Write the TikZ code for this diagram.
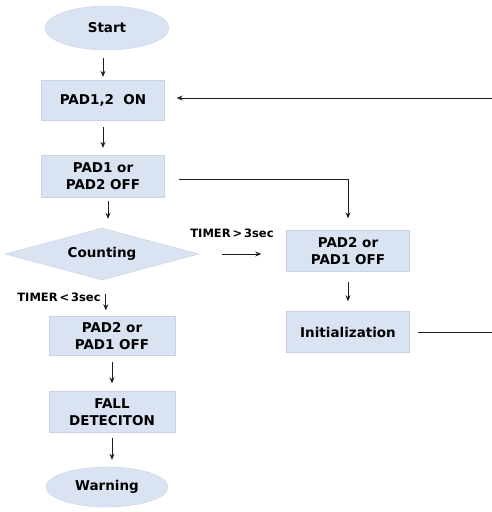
\documentclass[tikz,border=0pt]{standalone}
\usepackage{fontspec}
\setmainfont{DejaVu Sans}
\usetikzlibrary{shapes.geometric,arrows.meta}
\definecolor{boxfill}{RGB}{218,227,241}
\definecolor{boxedge}{RGB}{200,211,228}
\definecolor{linegray}{RGB}{30,30,30}

\begin{document}
\begin{tikzpicture}[x=1pt,y=-1pt,
	stepbox/.style={rectangle, fill=boxfill, draw=boxedge, minimum width=123pt, minimum height=41pt, inner sep=0pt, align=center, font=\fontsize{13.5}{16.5}\selectfont\bfseries},
	term/.style={ellipse, fill=boxfill, draw=boxedge, minimum width=124pt, minimum height=44pt, inner sep=0pt, font=\fontsize{13.5}{16.5}\selectfont\bfseries},
	decide/.style={diamond, aspect=3.7, fill=boxfill, draw=boxedge, minimum width=194pt, minimum height=52pt, inner sep=0pt, font=\fontsize{13.5}{16.5}\selectfont\bfseries},
	lbl/.style={inner sep=0pt, font=\fontsize{11.5}{14}\selectfont\bfseries},
	arr/.style={draw=linegray, line width=0.9pt, -{Stealth[length=6pt,width=5pt]}},
	wire/.style={draw=linegray, line width=0.9pt}]
	\useasboundingbox (0,0) rectangle (492,512);

	% left column
	\node[term] (start) at (107,28) {Start};
	\node[stepbox, minimum height=40pt] (padon) at (103,100) {PAD1,2\ \ ON};
	\node[stepbox, minimum height=42pt] (padoff) at (103,176) {PAD1 or\\PAD2 OFF};
	\node[decide] (count) at (102,254) {Counting};
	\node[stepbox, minimum width=126pt, minimum height=39pt] (leftoff) at (112,336) {PAD2 or\\PAD1 OFF};
	\node[stepbox, minimum width=126pt] (fall) at (112,412) {FALL\\DETECITON};
	\node[term, minimum width=122pt, minimum height=40pt] (warn) at (107,487) {Warning};

	% right column
	\node[stepbox] (rightoff) at (348,251) {PAD2 or\\PAD1 OFF};
	\node[stepbox] (init) at (348,332) {Initialization};

	% labels
	\node[lbl] (tlong) at (232,233) {TIMER\,>\,3sec};
	\node[lbl] (tshort) at (59,297) {TIMER\,<\,3sec};

	% loose ends on the right edge
	\coordinate (backin) at (492,98);
	\coordinate (backout) at (492,333);

	% connectors
	\draw[arr, shorten <=8pt, shorten >=3pt] (start.south -| padon.north) -- (padon.north);
	\draw[arr, shorten <=7pt, shorten >=7pt] (padon) -- (padoff);
	\draw[arr, shorten <=4pt, shorten >=9pt] ([xshift=5pt]padoff.south) -- ([xshift=5pt]padoff.south |- count.north);
	\draw[arr, shorten <=14pt, shorten >=6pt] (count.south -| tshort.east) ++(5pt,0) coordinate (cdown) -- (cdown |- leftoff.north);
	\draw[arr, shorten <=6pt, shorten >=8pt] (leftoff) -- (fall);
	\draw[arr, shorten <=5pt, shorten >=7pt] (fall) -- (fall.south |- warn.north);
	\draw[arr, shorten <=23pt, shorten >=25pt] (count.east) -- (count.east -| rightoff.west);
	\draw[arr, shorten <=14pt, shorten >=12pt] ([yshift=-3pt]padoff.east) -| (rightoff.north);
	\draw[arr, shorten <=10pt, shorten >=10pt] (rightoff) -- (init);
	\draw[wire, shorten <=8pt] (init.east) -- (init.east -| backout);
	\draw[arr, shorten >=12pt] (backin) -- (backin -| padon.east);
\end{tikzpicture}
\end{document}
